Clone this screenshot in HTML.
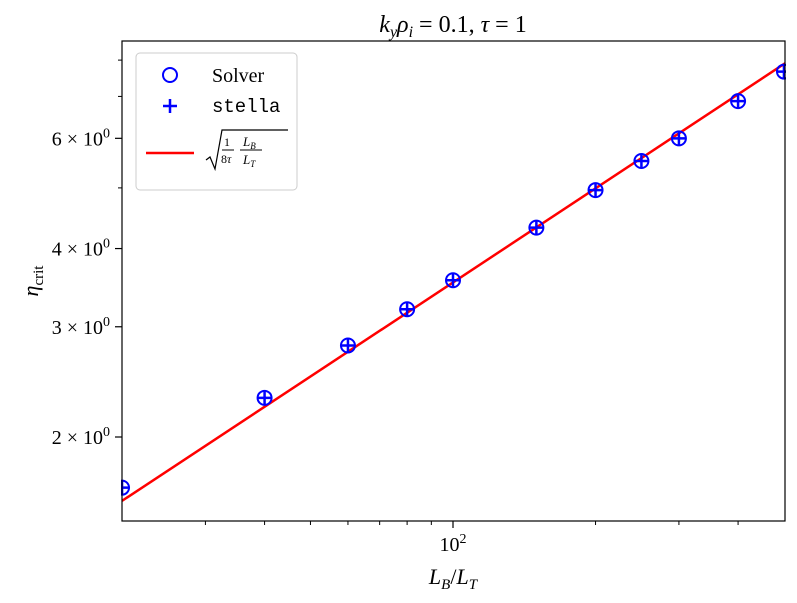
<!DOCTYPE html>
<html><head><meta charset="utf-8"><style>
body{margin:0;background:#fff;}
svg text{font-family:"Liberation Serif",serif;fill:#000;}
</style></head><body>
<svg id="c" width="797" height="598" xmlns="http://www.w3.org/2000/svg">
<rect width="797" height="598" fill="#fff"/>
<text x="453" y="32" font-size="24" text-anchor="middle" font-style="italic">k<tspan font-size="16" dy="5">y</tspan><tspan dy="-5">ρ</tspan><tspan font-size="16" dy="5">i</tspan><tspan dy="-5" font-style="normal"> = 0.1, </tspan>τ<tspan font-style="normal"> = 1</tspan></text>
<g id="plot"></g>
<text x="453" y="584" font-size="22" text-anchor="middle" font-style="italic">L<tspan font-size="15" dy="5">B</tspan><tspan dy="-5" font-style="normal">/</tspan>L<tspan font-size="15" dy="5">T</tspan></text>
<text transform="translate(38,281) rotate(-90)" font-size="22" text-anchor="middle"><tspan font-style="italic">η</tspan><tspan font-size="15" dy="5">crit</tspan></text>
<g>
<rect x="136" y="53" width="161" height="137" rx="4" fill="#fff" stroke="#ccc" stroke-width="1"/>
<circle cx="170" cy="75" r="7" fill="none" stroke="#00f" stroke-width="2"/>
<text x="212" y="82" font-size="20">Solver</text>
<path d="M163 106h14M170 99v14" stroke="#00f" stroke-width="2.5"/>
<text x="212" y="112" font-size="19" font-family="Liberation Mono,monospace" style="font-family:'Liberation Mono',monospace">stella</text>
<line x1="146" y1="153" x2="194" y2="153" stroke="#f00" stroke-width="2.5"/>
<path d="M206 160l4-3 5 12 7-39h66" fill="none" stroke="#000" stroke-width="1.2"/>
<text x="224" y="146" font-size="12">1</text><line x1="222" y1="150" x2="234" y2="150" stroke="#000"/>
<text x="221" y="163" font-size="12">8<tspan font-style="italic">τ</tspan></text>
<text x="243" y="146" font-size="13" font-style="italic">L<tspan font-size="9" dy="3">B</tspan></text><line x1="240" y1="150" x2="262" y2="150" stroke="#000"/>
<text x="243" y="164" font-size="13" font-style="italic">L<tspan font-size="9" dy="3">T</tspan></text>
</g>
</svg>
<script>
const xVals=[20,40,60,80,100,150,200,250,300,400,500];
const solverVals=[1.66,2.31,2.80,3.20,3.56,4.32,4.96,5.52,6.0,6.88,7.67];
const stellaVals=[1.66,2.31,2.80,3.20,3.56,4.32,4.96,5.52,6.0,6.88,7.67];
const yTickVals=[2,3,4,6];
const yTickLabels=["2","3","4","6"];
const yMinorVals=[5,7,8];
const xMinorVals=[30,40,50,60,70,80,90,200,300,400];
const L=122,R=785,T=41,B=521;
const X=v=>453+(Math.log10(v)-2)*473.5;
const Y=v=>437-Math.log10(v/2)*626;
const g=document.getElementById('plot');
const NS='http://www.w3.org/2000/svg';
function mk(t,a){const e=document.createElementNS(NS,t);for(const k in a)e.setAttribute(k,a[k]);g.appendChild(e);return e;}
// line
const fit=mk('line',{x1:L,y1:Y(Math.sqrt(20/8)),x2:R,y2:Y(Math.sqrt(500/8)),stroke:'#f00','stroke-width':2.5});


xVals.forEach((x,i)=>{
 const c=mk('circle',{cx:X(x),cy:Y(solverVals[i]),r:7,fill:'none',stroke:'#00f','stroke-width':2});
 
 
 const p=mk('path',{d:`M${X(x)-7} ${Y(stellaVals[i])}h14M${X(x)} ${Y(stellaVals[i])-7}v14`,stroke:'#00f','stroke-width':2.5});
 
 
});
// white mask outside axes
mk('rect',{x:0,y:T-12,width:L-1,height:B-T+24,fill:'#fff'});
mk('rect',{x:R+1,y:T-12,width:20,height:B-T+24,fill:'#fff'});
const ax=mk('rect',{x:L,y:T,width:R-L,height:B-T,fill:'none',stroke:'#000','stroke-width':1.2});


// x ticks
const xt=mk('line',{x1:X(100),y1:B,x2:X(100),y2:B+7,stroke:'#000','stroke-width':1.2});


const xl=mk('text',{x:X(100),y:B+30,'font-size':20,'text-anchor':'middle'});
xl.textContent='10';
const sup=document.createElementNS(NS,'tspan');sup.setAttribute('font-size','14');sup.setAttribute('dy','-8');sup.textContent='2';xl.appendChild(sup);


xMinorVals.forEach(v=>{const m=mk('line',{x1:X(v),y1:B,x2:X(v),y2:B+4,stroke:'#000','stroke-width':1});
 
 });
yTickVals.forEach((v,i)=>{
 const t=mk('line',{x1:L-7,y1:Y(v),x2:L,y2:Y(v),stroke:'#000','stroke-width':1.2});
 
 
 const tx=mk('text',{x:L-12,y:Y(v)+7,'font-size':20,'text-anchor':'end'});
 tx.textContent=yTickLabels[i]+' × 10';
 const s=document.createElementNS(NS,'tspan');s.setAttribute('font-size','14');s.setAttribute('dy','-8');s.textContent='0';tx.appendChild(s);
 
 
});
yMinorVals.forEach(v=>{const m=mk('line',{x1:L-4,y1:Y(v),x2:L,y2:Y(v),stroke:'#000','stroke-width':1});
 
 });
</script>
</body></html>
